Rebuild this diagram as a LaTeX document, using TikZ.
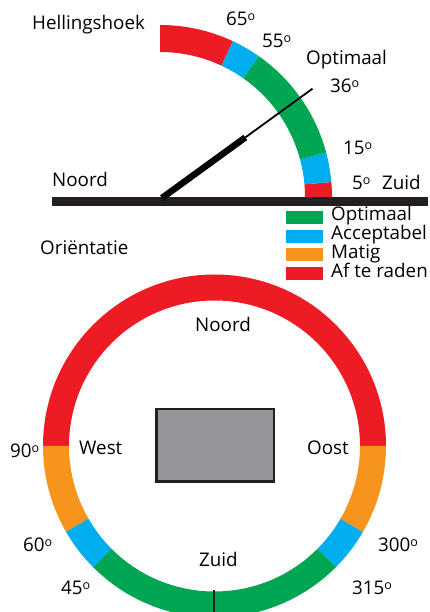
\documentclass[tikz,border=0pt]{standalone}
\usepackage{fontspec}
\setmainfont{Open Sans}
\usetikzlibrary{calc}
\definecolor{cred}{HTML}{ED1C24}
\definecolor{cblue}{HTML}{00AEEF}
\definecolor{cgreen}{HTML}{00A651}
\definecolor{corange}{HTML}{F7941D}
\definecolor{cblack}{HTML}{231F20}
\definecolor{cgray}{HTML}{939598}
\newcommand{\ringseg}[6]{% color, cx, cy, a1, a2, unused
  \fill[#1,shift={(#2,#3)}] (#4:\rout) arc[start angle=#4,end angle=#5,radius=\rout]
    -- (#5:\rin) arc[start angle=#5,end angle=#4,radius=\rin] -- cycle;}
\newcommand{\dg}{\raisebox{5.5pt}{\fontsize{12.5}{12.5}\selectfont o}}
\begin{document}
\begin{tikzpicture}[x=1pt,y=1pt,
  lbl/.style={inner sep=0pt,anchor=base west,font=\fontsize{18.8}{22}\selectfont,text=black},
  swatch/.style={inner sep=0pt,minimum width=37pt,minimum height=13pt,anchor=north west}]
\useasboundingbox (0,0) rectangle (430,612);
\clip (0,0) rectangle (430,612);
% ---------- top: slope gauge ----------
\def\rin{145}\def\rout{172}
\ringseg{cred}{160}{415}{0}{5}{}
\ringseg{cblue}{160}{415}{5}{15}{}
\ringseg{cgreen}{160}{415}{15}{55}{}
\ringseg{cblue}{160}{415}{55}{65}{}
\ringseg{cred}{160}{415}{65}{90}{}
\fill[cblack] (52,406) rectangle (428,415);
\coordinate (hub) at (162,414);
\coordinate (nmid) at ($(hub)+(36:103)$);
\coordinate (ntip) at ($(hub)+(36:186)$);
\draw[black,line width=6.5pt] (hub) -- (nmid);
\draw[black,line width=1.8pt] (nmid) -- (ntip);
\node[lbl] (hell) at (32,582) {Hellingshoek};
\node[lbl] (d65) at (226,586) {65\dg};
\node[lbl] (d55) at (262,564) {55\dg};
\node[lbl] (opt) at (306,547) {Optimaal};
\node[lbl] (d36) at (330,519) {36\dg};
\node[lbl] (d15) at (343,457) {15\dg};
\node[lbl] (d5) at (352,422) {5\dg};
\node[lbl] (zuidt) at (382,422) {Zuid};
\node[lbl] (noordt) at (52,425) {Noord};
% ---------- legend ----------
\node[swatch,fill=cgreen] (sw1) at (286,401) {};
\node[swatch,fill=cblue] (sw2) at (286,382.5) {};
\node[swatch,fill=corange] (sw3) at (286,364) {};
\node[swatch,fill=cred] (sw4) at (286,345.5) {};
\node[lbl] (lg1) at (331,391) {Optimaal};
\node[lbl] (lg2) at (331,372) {Acceptabel};
\node[lbl] (lg3) at (331,353) {Matig};
\node[lbl] (lg4) at (331,334) {Af te raden};
\node[lbl] (orient) at (40,357) {Oriëntatie};
% ---------- bottom: orientation ring ----------
\def\rin{145.5}\def\rout{171.5}
\ringseg{cred}{214.5}{166}{0}{180}{}
\ringseg{corange}{214.5}{166}{180}{210}{}
\ringseg{cblue}{214.5}{166}{210}{225}{}
\ringseg{cgreen}{214.5}{166}{225}{315}{}
\ringseg{cblue}{214.5}{166}{315}{330}{}
\ringseg{corange}{214.5}{166}{330}{360}{}
\coordinate (tickA) at (214,22);
\coordinate (tickB) at (214,-6);
\draw[cblack,line width=1.6pt] (tickA) -- (tickB);
\node[draw=cblack,fill=cgray,line width=2.5pt,minimum width=117.5pt,minimum height=72.5pt,inner sep=0pt] (house) at (215,166.5) {};
\node[lbl] (noordb) at (195,280) {Noord};
\node[lbl] (west) at (79,157) {West};
\node[lbl] (oost) at (307,157) {Oost};
\node[lbl] (zuidb) at (199,45) {Zuid};
\node[lbl] (d90) at (10,154) {90\dg};
\node[lbl] (d60) at (23,60) {60\dg};
\node[lbl] (d45) at (61,17) {45\dg};
\node[lbl] (d300) at (378,60) {300\dg};
\node[lbl] (d315) at (352,17) {315\dg};
\end{tikzpicture}
\end{document}
